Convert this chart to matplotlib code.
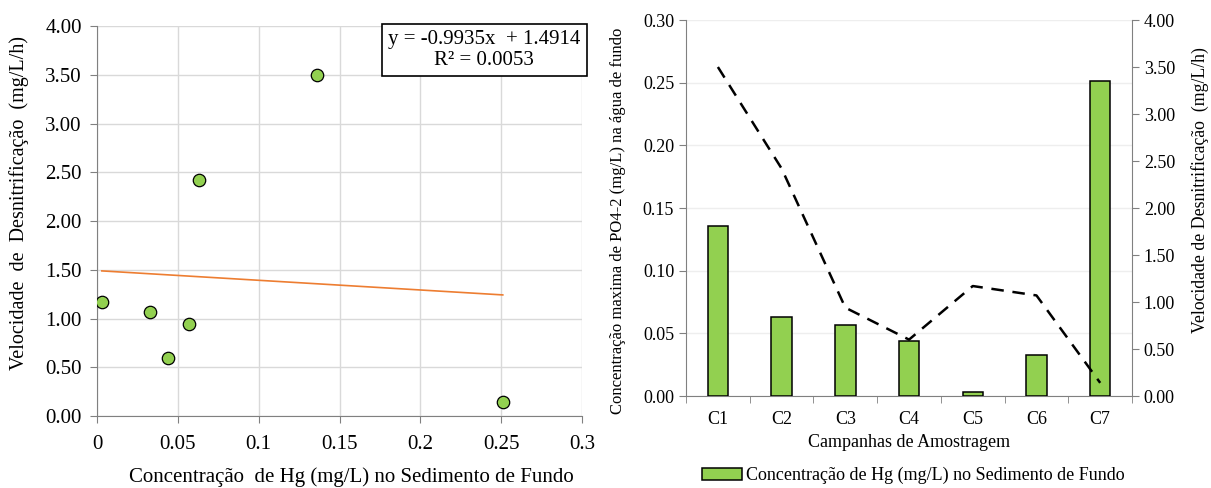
import matplotlib
matplotlib.use("Agg")
import matplotlib.pyplot as plt
from matplotlib.patches import Patch
import numpy as np

plt.rcParams['font.family'] = ['Liberation Serif', 'DejaVu Serif']

campanhas = ["C1", "C2", "C3", "C4", "C5", "C6", "C7"]
hg_sedimento = [0.136, 0.063, 0.057, 0.044, 0.003, 0.033, 0.251]
velocidade = [3.50, 2.42, 0.94, 0.60, 1.17, 1.07, 0.14]
slope, intercept = -0.9935, 1.4914
r2 = 0.0053

green = "#92D050"
axis_gray = "#808080"
grid_gray = "#D9D9D9"

fig = plt.figure(figsize=(12.11, 4.88), dpi=100)

# ---- Scatter: Hg concentration vs denitrification rate ----
ax1 = fig.add_axes([0.0801, 0.1475, 0.4005, 0.7992])
ax1.scatter(hg_sedimento, velocidade, s=80, color=green, edgecolor="black",
            linewidth=0.9, zorder=3)
xs = np.array([min(hg_sedimento), max(hg_sedimento)])
ax1.plot(xs, slope * xs + intercept, color="#ED7D31", lw=1.2, zorder=2)
ax1.set_xlim(0, 0.3)
ax1.set_ylim(0, 4.0)
ax1.set_xticks([0, 0.05, 0.1, 0.15, 0.2, 0.25, 0.3])
ax1.set_xticklabels(["0", "0.05", "0.1", "0.15", "0.2", "0.25", "0.3"])
ax1.set_yticks(np.arange(0, 4.01, 0.5))
ax1.set_yticklabels([f"{v:.2f}" for v in np.arange(0, 4.01, 0.5)])
ax1.grid(True, color=grid_gray, lw=1)
ax1.set_axisbelow(True)
for s in ["top", "right"]:
    ax1.spines[s].set_visible(False)
for s in ["left", "bottom"]:
    ax1.spines[s].set_color(axis_gray)
ax1.tick_params(axis="both", labelsize=15, color=axis_gray, length=5, direction="out")
ax1.tick_params(axis="x", pad=9)
ax1.tick_params(axis="y", pad=6)
ax1.set_ylabel("Velocidade  de  Desnitrificação  (mg/L/h)", fontsize=14.5, va="center")
ax1.yaxis.set_label_coords(-0.161, 0.545)
ax1.set_xlabel("Concentração  de Hg (mg/L) no Sedimento de Fundo", fontsize=15, va="center")
ax1.xaxis.set_label_coords(0.524, -0.156)
ax1.text(0.997, 0.99, f"y = -0.9935x  + 1.4914\nR² = {r2:.4f}", transform=ax1.transAxes,
         ha="right", va="top", fontsize=15, linespacing=1.12, multialignment="center",
         bbox=dict(boxstyle="square,pad=0.3", fc="white", ec="black", lw=1.2), zorder=5)

# ---- Bars + line: per-campaign values ----
ax2 = fig.add_axes([0.5665, 0.1885, 0.3683, 0.7705])
x = np.arange(len(campanhas))
ax2.bar(x, hg_sedimento, width=0.32, color=green, edgecolor="black", lw=1.1, zorder=3)
ax2.set_xlim(-0.5, len(campanhas) - 0.5)
ax2.set_ylim(0, 0.30)
ax2.set_yticks(np.arange(0, 0.301, 0.05))
ax2.set_yticklabels([f"{v:.2f}" for v in np.arange(0, 0.301, 0.05)])
ax2.set_xticks(x)
ax2.set_xticklabels(campanhas)
ax2.set_xticks(np.arange(-0.5, len(campanhas)), minor=True)
ax2.tick_params(axis="x", which="major", length=0, labelsize=13, pad=11)
ax2.tick_params(axis="x", which="minor", length=5, color=axis_gray)
ax2.tick_params(axis="y", labelsize=13, color=axis_gray, length=5)
ax2.yaxis.grid(True, color="#EEEEEE", lw=1)
ax2.set_axisbelow(True)
ax2.spines["top"].set_visible(False)
ax2.spines["right"].set_visible(False)
for s in ["left", "bottom"]:
    ax2.spines[s].set_color(axis_gray)
ax2.set_ylabel("Concentração maxima de PO4-2 (mg/L) na água de fundo", fontsize=12, va="center")
ax2.yaxis.set_label_coords(-0.152, 0.465)
ax2.set_xlabel("Campanhas de Amostragem", fontsize=13, labelpad=4)

ax3 = ax2.twinx()
ax3.plot(x, velocidade, color="black", lw=1.8, dashes=(5, 3.5), zorder=4)
ax3.set_ylim(0, 4.0)
ax3.set_yticks(np.arange(0, 4.01, 0.5))
ax3.set_yticklabels([f"{v:.2f}" for v in np.arange(0, 4.01, 0.5)])
ax3.tick_params(axis="y", labelsize=13, color=axis_gray, length=5)
for s in ["top", "left", "bottom"]:
    ax3.spines[s].set_visible(False)
ax3.spines["right"].set_color(axis_gray)
ax3.set_ylabel("Velocidade de Desnitrificação  (mg/L/h)", fontsize=12.8, va="center")
ax3.yaxis.set_label_coords(1.152, 0.548)

fig.legend(handles=[Patch(facecolor=green, edgecolor="black", lw=1.1,
                          label="Concentração de Hg (mg/L) no Sedimento de Fundo")],
           loc="center", bbox_to_anchor=(0.7543, 0.025), frameon=False, fontsize=13,
           handlelength=2.2, handleheight=0.7, handletextpad=0.2)

fig.savefig("out.png", dpi=100)
